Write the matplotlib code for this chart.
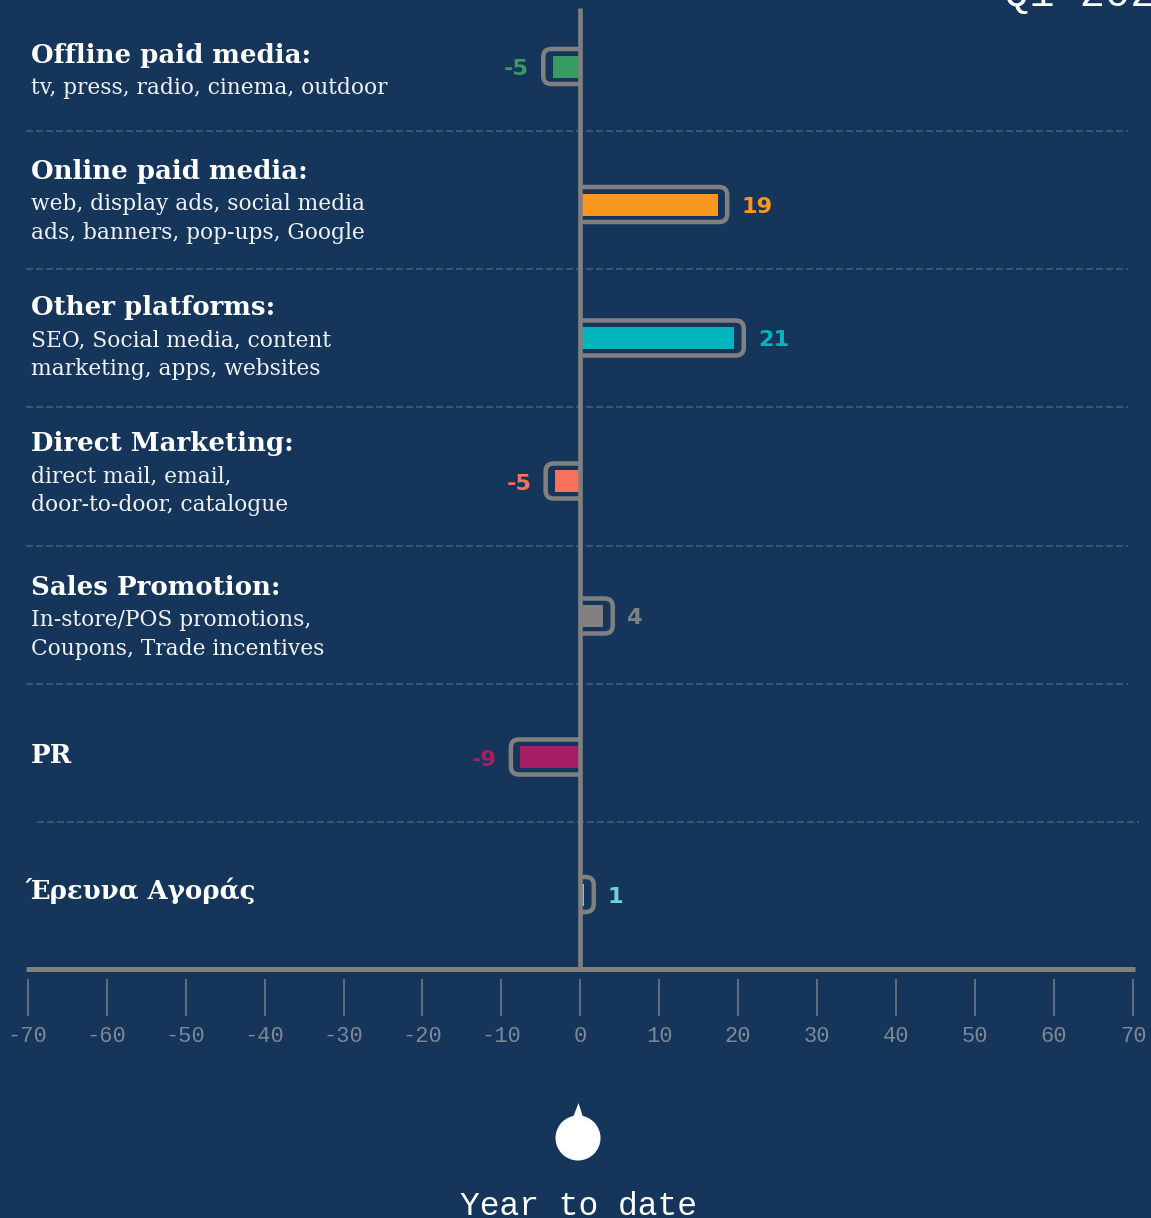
import matplotlib
matplotlib.use("Agg")
import matplotlib.pyplot as plt
from matplotlib.patches import FancyBboxPatch, Circle, Polygon, Rectangle
from matplotlib.transforms import Affine2D

# ---------- data ----------
headings = ["Offline paid media:", "Online paid media:", "Other platforms:",
            "Direct Marketing:", "Sales Promotion:", "PR", "Έρευνα Αγοράς"]
details = [["tv, press, radio, cinema, outdoor"],
           ["web, display ads, social media", "ads, banners, pop-ups, Google"],
           ["SEO, Social media, content", "marketing, apps, websites"],
           ["direct mail, email,", "door-to-door, catalogue"],
           ["In-store/POS promotions,", "Coupons, Trade incentives"],
           [], []]
values = [-4.7, 18.6, 20.7, -4.4, 4.1, -8.8, 1.7]
value_labels = ["-5", "19", "21", "-5", "4", "-9", "1"]
colors = ["#389b62", "#f9971e", "#00b5bd", "#f9705b", "#808080", "#a61e64", "#6fd3d8"]
tick_values = list(range(-70, 71, 10))
tick_labels = [str(t) for t in tick_values]
title_text = "Q1 202"
footer_text = "Year to date"

# ---------- layout (pixels) ----------
W, H = 1151, 1218
BG = "#15355a"
GREY = "#808080"
row_y = [66.5, 204.5, 338, 481, 616, 757, 894.5]
head_base = [63, 179, 315, 451, 595, 763, 899]
head_x = [31, 31, 31, 31, 31, 31, 25]
sep_y = [130.5, 269, 407, 545.5, 684, 821.5]
sep_x0 = [26, 26, 26, 26, 26, 37]
sep_x1 = [1128, 1128, 1128, 1128, 1128, 1139]
AX_L, AX_R, AX_T, AX_B = 27.7, 1133, 8, 968
INSET = 1.2
px = 100 / 72  # pixels per point at dpi 100

plt.rcParams["font.family"] = ["DejaVu Serif"]
fig = plt.figure(figsize=(W / 100, H / 100), dpi=100, facecolor=BG)
ax = fig.add_axes([AX_L / W, 1 - AX_B / H, (AX_R - AX_L) / W, (AX_B - AX_T) / H])
ax.set_facecolor(BG)
ax.patch.set_visible(False)
ax.set_xlim(-70, 70)
ax.set_ylim(AX_B, AX_T)
unit = (AX_R - AX_L) / 140

pixel = Affine2D().scale(1, -1).translate(0, H)

for s in ["top", "left", "right"]:
    ax.spines[s].set_visible(False)
ax.spines["bottom"].set_position(("outward", 11 / px))
ax.spines["bottom"].set_visible(False)
ax.set_yticks([])
ax.set_xticks(tick_values)
ax.set_xticklabels(tick_labels, fontsize=22 / px, color="#7d8996",
                   family="Liberation Mono")
ax.tick_params(axis="x", length=37 / px, width=1.5 / px, color="#76828f", pad=10 / px)

# separators
for y, a, b in zip(sep_y, sep_x0, sep_x1):
    ax.plot([a, b], [y, y], transform=pixel, color="#41607f", lw=1.6 / px,
            dashes=(7 / 1.6, 3 / 1.6), clip_on=False, zorder=1)

# bars
for y, v, c, lab in zip(row_y, values, colors, value_labels):
    sign = 1 if v > 0 else -1
    start = -sign * 2
    box = FancyBboxPatch((min(start, v), y - 17.5), abs(v - start), 35,
                         boxstyle=f"round,pad=0,rounding_size={8 / unit}",
                         mutation_aspect=unit, fc="none", ec=GREY,
                         lw=4.5 / px, zorder=2)
    ax.add_patch(box)
    box.set_clip_path(Rectangle((min(0, v * 2), y - 40), abs(v * 2), 80, transform=ax.transData))
    ax.barh(y, v - sign * INSET, height=22, color=c, zorder=3)
    ax.annotate(lab, (v, y), xytext=(sign * 14 / px, -8.5 / px),
                textcoords="offset points", ha="left" if v > 0 else "right",
                va="baseline", color=c, fontsize=22.5 / px, family="DejaVu Sans",
                fontweight="bold", zorder=4)

# centre line and base line
ax.axvline(-0.1, color=GREY, lw=4.6 / px, zorder=5, solid_capstyle="butt")
ax.plot([26, 1135], [968.5, 968.5], transform=pixel, color=GREY, lw=5 / px,
        solid_capstyle="butt", clip_on=False, zorder=5)

# row text
for x, base, head, det in zip(head_x, head_base, headings, details):
    ax.text(x, base, head, transform=pixel, color="white", fontsize=26 / px,
            fontweight="bold", va="baseline", ha="left")
    for i, line in enumerate(det):
        ax.text(31, base + 31 + i * 29, line, transform=pixel, color="#f0f2f5",
                fontsize=21.8 / px, va="baseline", ha="left")

# pin marker
ax.add_patch(Circle((578, 1138), 22.5, transform=pixel, fc="white", ec="none", clip_on=False))
ax.add_patch(Polygon([(572, 1120), (578.5, 1103), (584, 1120)], closed=True,
                     transform=pixel, fc="white", ec="none", clip_on=False))

# footer + cropped title
ax.text(578, 1215, footer_text, transform=pixel, color="white", ha="center",
        va="baseline", fontsize=33 / px, family="Liberation Mono")
ax.text(1004.5, 6, title_text, transform=pixel, color="white", ha="left",
        va="baseline", fontsize=42 / px, family="Liberation Mono")

fig.savefig("out.png", dpi=100, facecolor=BG)
